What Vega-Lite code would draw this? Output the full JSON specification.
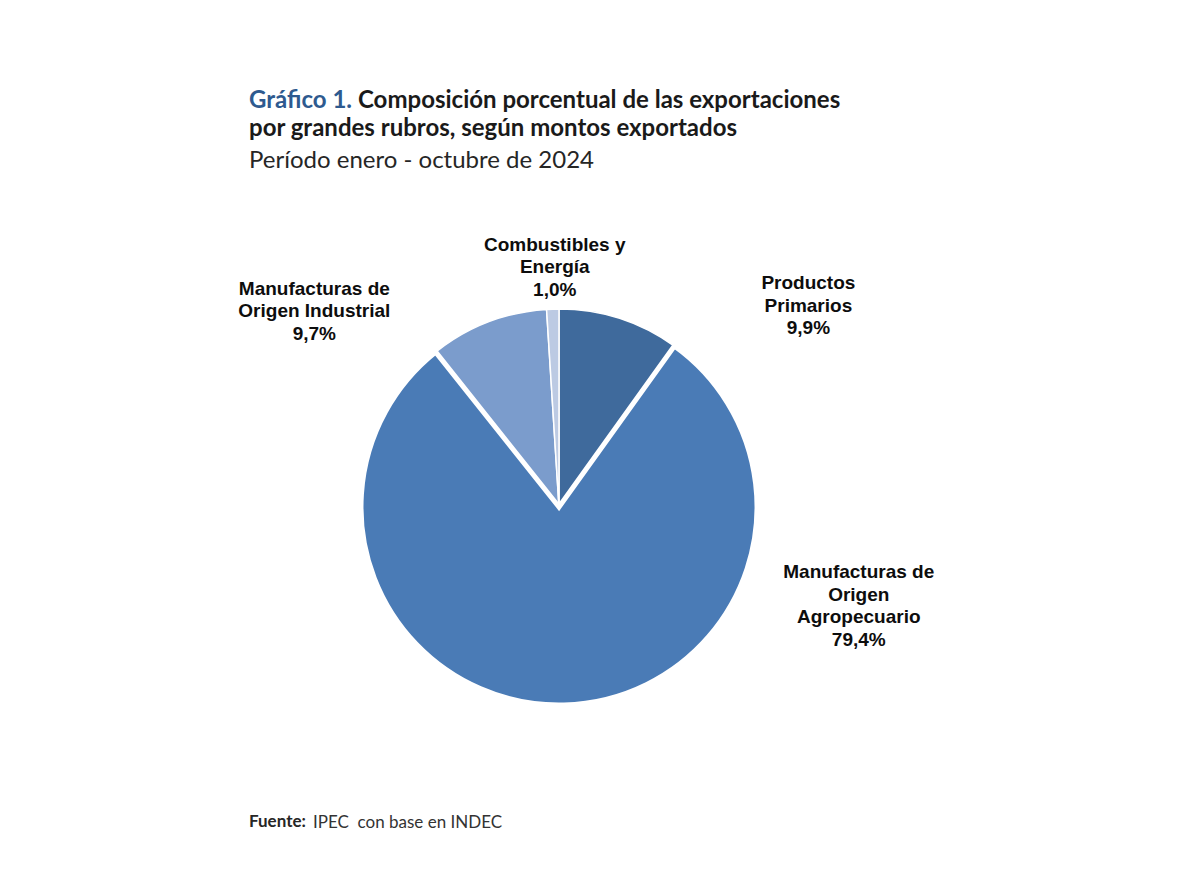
{
  "$schema": "https://vega.github.io/schema/vega-lite/v6.json",
  "autosize": "none",
  "background": "white",
  "padding": {"left": 249, "top": 307, "right": 951, "bottom": 571},
  "bounds": "flush",
  "config": {"view": {"stroke": null}, "concat": {"spacing": 0}},
  "title": {
    "text": "por grandes rubros, según montos exportados",
    "subtitle": "Período enero - octubre de 2024",
    "anchor": "start",
    "frame": "group",
    "font": "Lato",
    "fontSize": 24,
    "fontWeight": "bold",
    "color": "#1a1a1a",
    "lineHeight": 27,
    "subtitleFont": "Lato",
    "subtitleFontSize": 24,
    "subtitleFontWeight": "normal",
    "subtitleColor": "#262626",
    "subtitlePadding": 8,
    "offset": -84
  },
  "vconcat": [
    {
      "bounds": "flush",
      "title": {
        "text": "Composición porcentual de las exportaciones",
        "anchor": "start",
        "frame": "group",
        "font": "Lato",
        "fontSize": 24,
        "fontWeight": "bold",
        "color": "#1a1a1a",
        "offset": 0,
        "dx": 109,
        "dy": 24
      },
      "vconcat": [
        {
          "bounds": "flush",
          "title": {
            "text": "Gráfico 1.",
            "anchor": "start",
            "frame": "group",
            "font": "Lato",
            "fontSize": 24,
            "fontWeight": "bold",
            "color": "#2e5a8f",
            "offset": 0,
            "dy": -123
          },
          "vconcat": [
            {
              "bounds": "flush",
              "title": {
                "text": "IPEC\u00a0 con base en INDEC",
                "orient": "bottom",
                "anchor": "start",
                "frame": "group",
                "font": "Lato",
                "fontSize": 17,
                "fontWeight": "normal",
                "color": "#333333",
                "offset": -15,
                "dx": 64
              },
              "vconcat": [
                {
                  "width": 620,
                  "height": 400,
                  "title": {
                    "text": "Fuente:",
                    "orient": "bottom",
                    "anchor": "start",
                    "frame": "group",
                    "font": "Lato",
                    "fontSize": 17,
                    "fontWeight": "bold",
                    "color": "#262626",
                    "offset": 99
                  },
                  "data": {
                    "values": [
                      {"rubro": "Productos Primarios", "etiqueta": "Productos\nPrimarios", "valor": 9.9},
                      {"rubro": "Manufacturas de Origen Agropecuario", "etiqueta": "Manufacturas de\nOrigen\nAgropecuario", "valor": 79.4},
                      {"rubro": "Manufacturas de Origen Industrial", "etiqueta": "Manufacturas de\nOrigen Industrial", "valor": 9.7},
                      {"rubro": "Combustibles y Energía", "etiqueta": "Combustibles y\nEnergía", "valor": 1.0}
                    ]
                  },
                  "transform": [
                    {"window": [{"op": "row_number", "as": "orden"}]},
                    {"stack": "valor", "groupby": [], "sort": [{"field": "orden", "order": "ascending"}], "as": ["v0", "v1"]},
                    {"calculate": "(datum.v0 + datum.v1) / 2", "as": "mid"},
                    {"calculate": "datum.etiqueta + '\\n' + replace(format(datum.valor, '.1f'), '.', ',') + '%'", "as": "label"}
                  ],
                  "layer": [
                    {
                      "mark": {"type": "arc", "outerRadius": 198, "stroke": "white", "strokeWidth": 1.5},
                      "encoding": {
                        "theta": {"field": "v0", "type": "quantitative", "stack": null, "scale": {"domain": [0, 100]}},
                        "theta2": {"field": "v1"},
                        "color": {
                          "field": "rubro", "type": "nominal", "legend": null,
                          "scale": {
                            "domain": ["Productos Primarios", "Manufacturas de Origen Agropecuario", "Manufacturas de Origen Industrial", "Combustibles y Energía"],
                            "range": ["#3f6a9c", "#4a7bb6", "#7b9ccc", "#bccae3"]
                          }
                        }
                      }
                    },
                    {
                      "transform": [{"filter": "datum.rubro === 'Manufacturas de Origen Agropecuario'"}],
                      "mark": {"type": "arc", "outerRadius": 198, "stroke": "white", "strokeWidth": 5},
                      "encoding": {
                        "theta": {"field": "v0", "type": "quantitative", "stack": null, "scale": {"domain": [0, 100]}},
                        "theta2": {"field": "v1"},
                        "color": {"field": "rubro", "type": "nominal", "legend": null}
                      }
                    },
                    {
                      "transform": [{"filter": "datum.rubro === 'Productos Primarios'"}],
                      "mark": {"type": "text", "radius": 230, "dx": 179, "dy": -5, "align": "center", "baseline": "middle", "font": "Liberation Sans", "fontWeight": "bold", "fontSize": 19, "lineHeight": 22.5, "lineBreak": "\n", "color": "#0d0d0d"},
                      "encoding": {
                        "theta": {"field": "mid", "type": "quantitative", "stack": null, "scale": {"domain": [0, 100]}},
                        "text": {"field": "label"}
                      }
                    },
                    {
                      "transform": [{"filter": "datum.rubro === 'Manufacturas de Origen Agropecuario'"}],
                      "mark": {"type": "text", "radius": 230, "dx": 294, "dy": -164.75, "align": "center", "baseline": "middle", "font": "Liberation Sans", "fontWeight": "bold", "fontSize": 19, "lineHeight": 22.5, "lineBreak": "\n", "color": "#0d0d0d"},
                      "encoding": {
                        "theta": {"field": "mid", "type": "quantitative", "stack": null, "scale": {"domain": [0, 100]}},
                        "text": {"field": "label"}
                      }
                    },
                    {
                      "transform": [{"filter": "datum.rubro === 'Manufacturas de Origen Industrial'"}],
                      "mark": {"type": "text", "radius": 230, "dx": -162, "dy": -3.5, "align": "center", "baseline": "middle", "font": "Liberation Sans", "fontWeight": "bold", "fontSize": 19, "lineHeight": 22.5, "lineBreak": "\n", "color": "#0d0d0d"},
                      "encoding": {
                        "theta": {"field": "mid", "type": "quantitative", "stack": null, "scale": {"domain": [0, 100]}},
                        "text": {"field": "label"}
                      }
                    },
                    {
                      "transform": [{"filter": "datum.rubro === 'Combustibles y Energía'"}],
                      "mark": {"type": "text", "radius": 230, "dx": 3, "dy": -32.5, "align": "center", "baseline": "middle", "font": "Liberation Sans", "fontWeight": "bold", "fontSize": 19, "lineHeight": 22.5, "lineBreak": "\n", "color": "#0d0d0d"},
                      "encoding": {
                        "theta": {"field": "mid", "type": "quantitative", "stack": null, "scale": {"domain": [0, 100]}},
                        "text": {"field": "label"}
                      }
                    }
                  ]
                }
              ]
            }
          ]
        }
      ]
    }
  ]
}
